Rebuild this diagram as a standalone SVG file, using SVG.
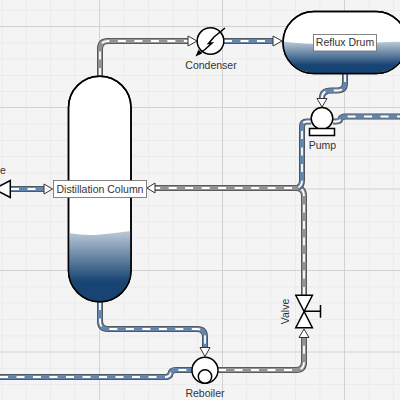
<svg xmlns="http://www.w3.org/2000/svg" width="400" height="400" viewBox="0 0 400 400">
<style>
.minor{stroke:#ebebeb;stroke-width:1;fill:none}
.major{stroke:#d2d2d2;stroke-width:1;fill:none}
.po{fill:none;stroke:#4a4a4a;stroke-width:6;stroke-linejoin:round}
.gi{fill:none;stroke:#929292;stroke-width:4.400;stroke-linejoin:round}
.bi{fill:none;stroke:#6485ad;stroke-width:4.400;stroke-linejoin:round}
.da{fill:none;stroke:#fff;stroke-width:1.800;stroke-dasharray:8 8.500}
.sh{fill:#fff;stroke:#000;stroke-width:1.500}
.ln{fill:none;stroke:#000;stroke-width:1.500}
.ah{fill:#fff;stroke:#333;stroke-width:1}
.lb{font-family:"Liberation Sans",Arial,sans-serif;font-size:10.500px;fill:#333;text-anchor:middle}
</style>
<defs>
<linearGradient id="g1" x1="0" y1="0" x2="0" y2="1"><stop offset="0" stop-color="#bccad8"/><stop offset="0.72" stop-color="#174473"/><stop offset="1" stop-color="#174473"/></linearGradient>
<linearGradient id="g2" x1="0" y1="0" x2="0" y2="1"><stop offset="0" stop-color="#bccad8"/><stop offset="0.75" stop-color="#174473"/><stop offset="1" stop-color="#174473"/></linearGradient>
</defs>
<rect width="400" height="400" fill="#f4f4f4"/>
<g id="grid">
<path class="minor" d="M2 0V400M26 0V400M50.500 0V400M75 0V400M124 0V400M148.500 0V400M173 0V400M197.500 0V400M246.500 0V400M271 0V400M295.500 0V400M320 0V400M369 0V400M393.500 0V400"/>
<path class="minor" d="M0 10.500H400M0 43H400M0 59H400M0 75.500H400M0 91.500H400M0 124H400M0 140.500H400M0 156.500H400M0 173H400M0 205.500H400M0 221.500H400M0 238H400M0 254H400M0 287H400M0 303H400M0 319.500H400M0 336H400M0 368.500H400M0 384.500H400"/>
<path class="major" d="M99.500 0V400M222.500 0V400M344.500 0V400M0 26.500H400M0 107.500H400M0 189H400M0 270.500H400M0 352H400"/>
</g>
<g id="connectors">
<g id="c-column-condenser">
<path class="po" d="M100 76V49Q100 41 108 41H189"/><path class="gi" d="M100 76V49Q100 41 108 41H189"/><path class="da" d="M100 76V49Q100 41 108 41H189"/>
<path class="ah" d="M188 36L197 41L188 46Z"/></g>
<g id="c-condenser-drum">
<path class="po" d="M224 41H274"/><path class="bi" d="M224 41H274"/><path class="da" d="M224 41H274"/>
<path class="ah" d="M273 36L282 41L273 46Z"/></g>
<g id="c-drum-pump">
<path class="po" d="M345 74V83Q345 90.500 337 90.500H331Q322 90.500 322 98"/><path class="bi" d="M345 74V83Q345 90.500 337 90.500H331Q322 90.500 322 98"/><path class="da" d="M345 74V83Q345 90.500 337 90.500H331Q322 90.500 322 98"/>
<path class="ah" d="M317 98.500L322 107L327 98.500Z"/></g>
<g id="c-valve-column">
<path class="po" d="M304 295V196Q304 188 296 188H155"/><path class="gi" d="M304 295V196Q304 188 296 188H155"/><path class="da" d="M304 295V196Q304 188 296 188H155"/>
<path class="ah" d="M155 183L147 188L155 193Z"/></g>
<g id="c-pump-out">
<path class="po" d="M311 121.500H307Q302 121.500 302 126.500V180Q302 186 298 187.500"/><path class="bi" d="M311 121.500H307Q302 121.500 302 126.500V180Q302 186 298 187.500"/><path class="da" d="M311 121.500H307Q302 121.500 302 126.500V180Q302 186 298 187.500"/></g>
<g id="c-pump-right">
<path class="po" d="M333 121.500H336Q340 121.500 340.500 119Q341 116.500 346 116.500H400"/><path class="bi" d="M333 121.500H336Q340 121.500 340.500 119Q341 116.500 346 116.500H400"/><path class="da" d="M333 121.500H336Q340 121.500 340.500 119Q341 116.500 346 116.500H400"/></g>
<g id="c-reboiler-valve">
<path class="po" d="M218 370H296Q304 370 304 362V337"/><path class="gi" d="M218 370H296Q304 370 304 362V337"/><path class="da" d="M218 370H296Q304 370 304 362V337"/>
<path class="ah" d="M299 337.500L304 329L309 337.500Z"/></g>
<g id="c-column-reboiler">
<path class="po" d="M100 302V321Q100 329 108 329H197Q205 329 205 337V348"/><path class="bi" d="M100 302V321Q100 329 108 329H197Q205 329 205 337V348"/><path class="da" d="M100 302V321Q100 329 108 329H197Q205 329 205 337V348"/>
<path class="ah" d="M200 347.500L205 356.500L210 347.500Z"/></g>
<g id="c-left-reboiler">
<path class="po" d="M0 377H165Q170 377 170.500 373.500Q171 370 176 370H192"/><path class="bi" d="M0 377H165Q170 377 170.500 373.500Q171 370 176 370H192"/><path class="da" d="M0 377H165Q170 377 170.500 373.500Q171 370 176 370H192"/></g>
<g id="c-left-valve">
<path class="po" d="M11 189H44"/><path class="bi" d="M11 189H44"/><path class="da" d="M11 189H44"/>
<path class="ah" d="M44 184L52.500 189L44 194Z"/></g>
</g>
<g id="column">
<path class="sh" d="M68.500 107.500A31.250 31.250 0 0 1 131 107.500V270.500A31.250 31.250 0 0 1 68.500 270.500Z"/>
<path d="M69 233Q85 236 100 234.500T130.500 231V270.500A30.750 31 0 0 1 69 270.500Z" fill="url(#g1)"/>
<path class="ln" d="M68.500 107.500A31.250 31.250 0 0 1 131 107.500V270.500A31.250 31.250 0 0 1 68.500 270.500Z"/>
<rect x="53.500" y="180.500" width="93" height="17" fill="#fff" stroke="#666" stroke-width="0.800"/>
<text class="lb" x="100" y="192.500">Distillation Column</text>
</g>
<g id="condenser">
<circle class="sh" cx="210.500" cy="41" r="13.300"/>
<path class="ln" d="M225 28L214 37L208.500 43.500L212 43L205 49.500L199 53.500"/>
<path d="M195.500 56.500L202 53.500L198.500 49.500Z" fill="#000"/>
<text class="lb" x="211" y="68.500">Condenser</text>
</g>
<g id="drum">
<path class="sh" d="M314 11.500H376A31 31 0 0 1 376 73.500H314A31 31 0 0 1 314 11.500Z"/>
<path d="M283.500 41.500Q305 45 345 43.500T406.500 41.500A30.500 31.500 0 0 1 376 73H314A30.500 31.500 0 0 1 283.500 41.500Z" fill="url(#g2)"/>
<path class="ln" d="M314 11.500H376A31 31 0 0 1 376 73.500H314A31 31 0 0 1 314 11.500Z"/>
<rect x="313.500" y="34.500" width="63" height="16.500" fill="#fff" stroke="#666" stroke-width="0.800"/>
<text class="lb" x="345" y="46">Reflux Drum</text>
</g>
<g id="pump">
<circle class="sh" cx="322" cy="118.300" r="10.800"/>
<rect class="sh" x="309.500" y="128.500" width="25" height="7"/>
<text class="lb" x="322.500" y="148.500">Pump</text>
</g>
<g id="reboiler">
<circle class="sh" cx="205" cy="370.300" r="13"/>
<circle class="sh" cx="205" cy="376.500" r="6.700"/>
<text class="lb" x="205" y="396.500">Reboiler</text>
</g>
<g id="valve">
<path class="sh" d="M295.800 295.300H312.400L295.800 327.700H312.400Z"/>
<path class="ln" d="M304 311.300H320.500M320.500 305V317.700"/>
<text class="lb" transform="rotate(-90 285 311.500)" x="285" y="315">Valve</text>
</g>
<g id="left-valve">
<path class="sh" d="M10.300 180.500V197.500L-6 189Z"/>
<text class="lb" style="text-anchor:start" x="0" y="173.500">e</text>
</g>
</svg>
